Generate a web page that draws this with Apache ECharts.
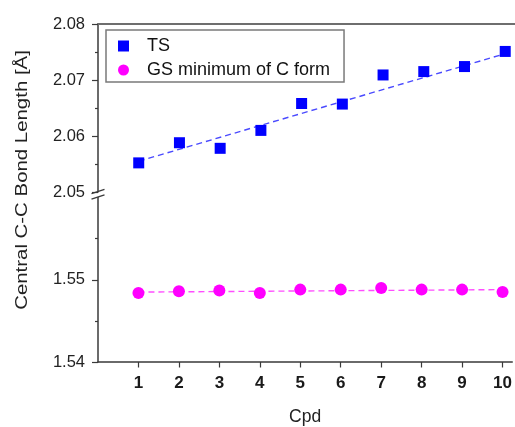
<!DOCTYPE html>
<html>
<head>
<meta charset="utf-8">
<script src="https://cdn.jsdelivr.net/npm/echarts@6/dist/echarts.min.js"></script>
<style>
  html, body { margin: 0; padding: 0; background: #fff; }
  #chart { width: 515px; height: 427px; }
</style>
</head>
<body>
<div id="chart"></div>
<script>
// Compound numbers on the x axis
const cpd = [1, 2, 3, 4, 5, 6, 7, 8, 9, 10];
// Transition-state central C-C bond lengths (Å)
const tsLength = [2.0552, 2.0588, 2.0578, 2.0610, 2.0658, 2.0657, 2.0709, 2.0715, 2.0724, 2.0751];
// Ground-state (C form minimum) central C-C bond lengths (Å)
const gsLength = [1.5484, 1.5486, 1.5487, 1.5484, 1.5488, 1.5488, 1.5490, 1.5488, 1.5488, 1.5485];
// Linear trend end values at Cpd 1 and Cpd 10
const tsTrend = [2.0555, 2.0747];
const gsTrend = [1.5485, 1.5488];
// Y tick labels for the two axis segments
const upperTicks = [2.05, 2.06, 2.07, 2.08];
const lowerTicks = [1.54, 1.55];

const FONT = 'Liberation Sans, Arial, sans-serif';
const AXIS_COLOR = '#3a3a3a';

const chart = echarts.init(document.getElementById('chart'), null, { renderer: 'canvas' });

const pairs = (xs, ys) => xs.map((x, i) => [x, ys[i]]);
const trend = (t) => [[cpd[0], t[0]], [cpd[cpd.length - 1], t[1]]];

const yCommon = {
  type: 'value',
  position: 'left',
  interval: 0.01,
  axisLine: { show: true, lineStyle: { color: AXIS_COLOR, width: 1.5 } },
  axisTick: { show: true, inside: false, length: 6, lineStyle: { color: AXIS_COLOR, width: 1.2 } },
  minorTick: { show: true, splitNumber: 2, length: 3, lineStyle: { color: AXIS_COLOR, width: 1.2 } },
  splitLine: { show: false },
  axisLabel: {
    margin: 13,
    fontFamily: FONT,
    fontSize: 16.5,
    color: '#222',
    formatter: (v) => v.toFixed(2)
  }
};

chart.setOption({
  animation: false,
  backgroundColor: '#fff',
  grid: [
    { left: 98, right: 0, top: 24, height: 168 },
    { left: 98, right: 0, top: 197.5, height: 166.5 }
  ],
  xAxis: [
    {
      gridIndex: 0, type: 'value', min: 0, max: 10.24, interval: 1, position: 'top',
      axisLine: { show: true, onZero: false, lineStyle: { color: '#6e6e6e', width: 2 } },
      axisTick: { show: false }, axisLabel: { show: false }, splitLine: { show: false }
    },
    {
      gridIndex: 1, type: 'value', min: 0, max: 10.24, interval: 1, position: 'bottom',
      name: 'Cpd', nameLocation: 'middle', nameGap: 46,
      nameTextStyle: { fontFamily: FONT, fontSize: 17.5, color: '#222' },
      axisLine: { show: true, onZero: false, lineStyle: { color: AXIS_COLOR, width: 1.5 } },
      axisTick: { show: true, inside: false, length: 5.5, customValues: cpd, lineStyle: { color: AXIS_COLOR, width: 1.2 } },
      axisLabel: {
        customValues: cpd, margin: 13,
        fontFamily: FONT, fontSize: 17, fontWeight: 'bold', color: '#1a1a1a'
      },
      splitLine: { show: false }
    }
  ],
  yAxis: [
    Object.assign({}, yCommon, {
      gridIndex: 0, min: 2.05, max: 2.08,
      axisLabel: Object.assign({}, yCommon.axisLabel, { customValues: upperTicks }),
      axisTick: Object.assign({}, yCommon.axisTick, { customValues: upperTicks })
    }),
    Object.assign({}, yCommon, {
      gridIndex: 1, min: 1.54, max: 1.56,
      axisLabel: Object.assign({}, yCommon.axisLabel, { customValues: lowerTicks }),
      axisTick: Object.assign({}, yCommon.axisTick, { customValues: lowerTicks })
    })
  ],
  legend: {
    orient: 'vertical',
    left: 106, top: 30,
    padding: [7, 14, 3, 12],
    itemGap: 6,
    itemWidth: 11, itemHeight: 11,
    borderColor: '#7a7a7a', borderWidth: 1.5, borderRadius: 0,
    textStyle: { fontFamily: FONT, fontSize: 18, color: '#111', padding: [0, 0, 0, 13] },
    data: [
      { name: 'TS', icon: 'rect' },
      { name: 'GS minimum of C form', icon: 'circle' }
    ]
  },
  series: [
    {
      name: 'TS trend', type: 'line', xAxisIndex: 0, yAxisIndex: 0,
      data: trend(tsTrend), showSymbol: false, silent: true, z: 1,
      lineStyle: { color: '#4a4aff', width: 1.4, type: [6, 4] }
    },
    {
      name: 'TS', type: 'scatter', xAxisIndex: 0, yAxisIndex: 0,
      data: pairs(cpd, tsLength), symbol: 'rect', symbolSize: 11, z: 3,
      itemStyle: { color: '#0000ff', opacity: 1 }
    },
    {
      name: 'GS trend', type: 'line', xAxisIndex: 1, yAxisIndex: 1,
      data: trend(gsTrend), showSymbol: false, silent: true, z: 1,
      lineStyle: { color: '#ff4dff', width: 1.4, type: [6, 4] }
    },
    {
      name: 'GS minimum of C form', type: 'scatter', xAxisIndex: 1, yAxisIndex: 1,
      data: pairs(cpd, gsLength), symbol: 'circle', symbolSize: 12, z: 3,
      itemStyle: { color: '#ff00ff', opacity: 1 }
    }
  ]
});

// Axis-break marks and the rotated y-axis title
const axisX = chart.convertToPixel({ xAxisIndex: 1 }, 0);
const upperBottom = chart.convertToPixel({ yAxisIndex: 0 }, 2.05);
const lowerTop = chart.convertToPixel({ yAxisIndex: 1 }, 1.56);
const slash = (yc) => ({
  type: 'line', z: 10,
  shape: { x1: axisX - 6.5, y1: yc + 2.2, x2: axisX + 6.5, y2: yc - 2.2 },
  style: { stroke: AXIS_COLOR, lineWidth: 1.3 }
});
chart.setOption({
  graphic: [
    slash(upperBottom - 0.5),
    slash(lowerTop - 0.5),
    {
      type: 'text', rotation: Math.PI / 2, x: 22, y: 180, scaleX: 1.2,
      style: {
        text: 'Central C-C Bond Length [Å]',
        fontFamily: FONT, fontSize: 17, fill: '#222',
        align: 'center', verticalAlign: 'middle'
      }
    }
  ]
});
</script>
</body>
</html>
